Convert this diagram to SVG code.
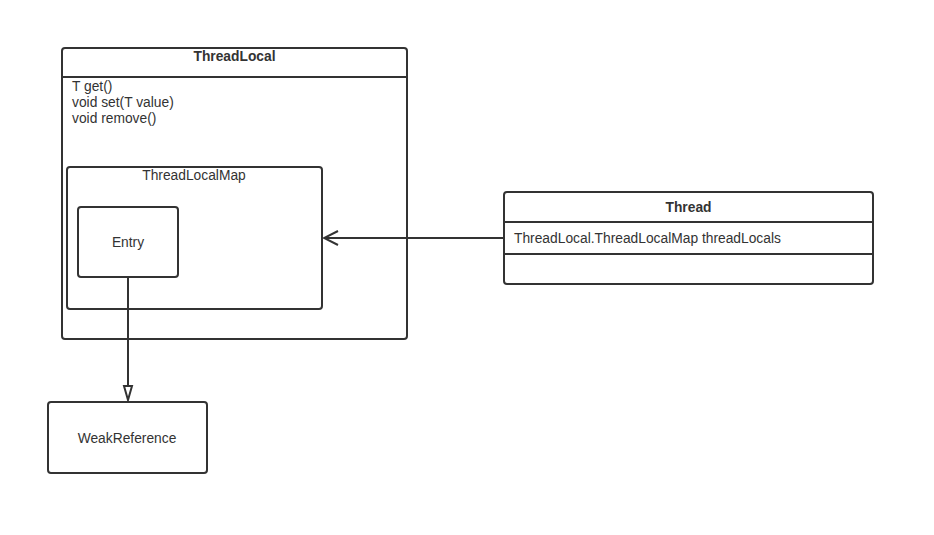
<svg xmlns="http://www.w3.org/2000/svg" width="934" height="535" viewBox="0 0 934 535">
<style>
.box{fill:#fff;stroke:#333;stroke-width:2}
.ln{stroke:#333;stroke-width:2;fill:none}
text{font-family:"Liberation Sans",Arial,sans-serif;font-size:13.8px;fill:#333}
.b{font-weight:bold}
.c{text-anchor:middle}
</style>
<defs>
<marker id="open" markerWidth="16" markerHeight="16" refX="15" refY="8" orient="auto" markerUnits="userSpaceOnUse">
<path d="M1,1 L15,8 L1,15" fill="none" stroke="#333" stroke-width="2"/>
</marker>
<marker id="tri" markerWidth="18" markerHeight="12" refX="16" refY="6" orient="auto" markerUnits="userSpaceOnUse">
<path d="M2,2 L16,6 L2,10 Z" fill="#fff" stroke="#333" stroke-width="2"/>
</marker>
</defs>
<rect width="934" height="535" fill="#fff"/>
<g id="ThreadLocal">
<rect class="box" x="62" y="48" width="345" height="291" rx="3"/>
<line class="ln" x1="62" y1="77" x2="407" y2="77"/>
<text class="b c" x="234.5" y="61">ThreadLocal</text>
<text x="72" y="91">T get()</text>
<text x="72" y="107">void set(T value)</text>
<text x="72" y="123">void remove()</text>
</g>
<g id="ThreadLocalMap">
<rect class="box" x="67" y="167" width="255" height="142" rx="3"/>
<text class="c" x="194" y="180">ThreadLocalMap</text>
</g>
<g id="Entry">
<rect class="box" x="78" y="207" width="100" height="70" rx="3"/>
<text class="c" x="128" y="247">Entry</text>
</g>
<g id="WeakReference">
<rect class="box" x="48" y="402" width="159" height="71" rx="3"/>
<text class="c" x="127" y="443">WeakReference</text>
</g>
<g id="Thread">
<rect class="box" x="504" y="192" width="369" height="92" rx="3"/>
<line class="ln" x1="504" y1="222" x2="873" y2="222"/>
<line class="ln" x1="504" y1="254" x2="873" y2="254"/>
<text class="b c" x="688.5" y="212">Thread</text>
<text x="514" y="243">ThreadLocal.ThreadLocalMap threadLocals</text>
</g>
<g id="connectors">
<line class="ln" x1="504" y1="238" x2="324" y2="238" marker-end="url(#open)"/>
<line class="ln" x1="128" y1="277" x2="128" y2="400" marker-end="url(#tri)"/>
</g>
</svg>
